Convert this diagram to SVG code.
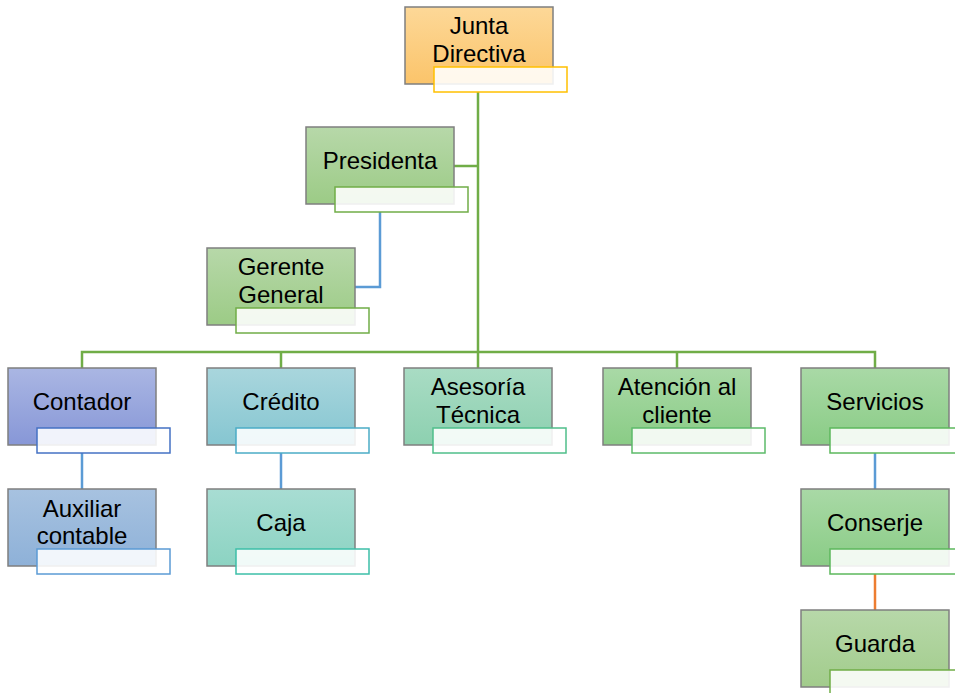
<svg xmlns="http://www.w3.org/2000/svg" width="955" height="693" viewBox="0 0 955 693">
<defs>
<linearGradient id="gOrange" x1="0" y1="0" x2="0" y2="1"><stop offset="0" stop-color="#fdd898"/><stop offset="1" stop-color="#fbc46a"/></linearGradient>
<linearGradient id="gGreen" x1="0" y1="0" x2="0" y2="1"><stop offset="0" stop-color="#b7d8a9"/><stop offset="1" stop-color="#9ccb86"/></linearGradient>
<linearGradient id="gGreen2" x1="0" y1="0" x2="0" y2="1"><stop offset="0" stop-color="#a9d9a6"/><stop offset="1" stop-color="#8acc86"/></linearGradient>
<linearGradient id="gLav" x1="0" y1="0" x2="0" y2="1"><stop offset="0" stop-color="#aab6e3"/><stop offset="1" stop-color="#8797d7"/></linearGradient>
<linearGradient id="gTeal" x1="0" y1="0" x2="0" y2="1"><stop offset="0" stop-color="#a9d6dd"/><stop offset="1" stop-color="#86c6d1"/></linearGradient>
<linearGradient id="gSea" x1="0" y1="0" x2="0" y2="1"><stop offset="0" stop-color="#a9dcc4"/><stop offset="1" stop-color="#8dd0b0"/></linearGradient>
<linearGradient id="gSky" x1="0" y1="0" x2="0" y2="1"><stop offset="0" stop-color="#a7c2e0"/><stop offset="1" stop-color="#8eb1d8"/></linearGradient>
<linearGradient id="gMint" x1="0" y1="0" x2="0" y2="1"><stop offset="0" stop-color="#a8ddd3"/><stop offset="1" stop-color="#8cd3c2"/></linearGradient>
<linearGradient id="gOlive" x1="0" y1="0" x2="0" y2="1"><stop offset="0" stop-color="#b7d8a9"/><stop offset="1" stop-color="#a2cc8c"/></linearGradient>
</defs>
<style>
.box{stroke:#7f7f7f;stroke-width:1.5}
.ov{fill:#ffffff;fill-opacity:0.88;stroke-width:1.5}
.t{font-family:"Liberation Sans",Arial,sans-serif;font-size:24px;fill:#000;text-anchor:middle}
.cg{fill:none;stroke:#70ad47;stroke-width:2.5}
.cb{fill:none;stroke:#5b9bd5;stroke-width:2.5}
.co{fill:none;stroke:#ed7d31;stroke-width:2.5}
</style>
<g id="connectors">
<path class="cg" d="M478 92V352M82 368V352H875V368M281 352V368M478 352V368M677 352V368M454 166H478"/>
<path class="cb" d="M380 212V287H355M82 453V489M281 453V489M875 453V489"/>
<path class="co" d="M875 574V610"/>
</g>
<g id="junta"><rect class="box" x="405" y="7" width="148" height="77" fill="url(#gOrange)"/><rect class="ov" x="434" y="67" width="133" height="25" stroke="#ffc000"/><text class="t" x="479" y="34">Junta</text><text class="t" x="479" y="62">Directiva</text></g>
<g id="presidenta"><rect class="box" x="306" y="127" width="148" height="77" fill="url(#gGreen)"/><rect class="ov" x="335" y="187" width="133" height="25" stroke="#70ad47"/><text class="t" x="380" y="169">Presidenta</text></g>
<g id="gerente"><rect class="box" x="207" y="248" width="148" height="77" fill="url(#gGreen)"/><rect class="ov" x="236" y="308" width="133" height="25" stroke="#70ad47"/><text class="t" x="281" y="275">Gerente</text><text class="t" x="281" y="303">General</text></g>
<g id="contador"><rect class="box" x="8" y="368" width="148" height="77" fill="url(#gLav)"/><rect class="ov" x="37" y="428" width="133" height="25" stroke="#4472c4"/><text class="t" x="82" y="410">Contador</text></g>
<g id="credito"><rect class="box" x="207" y="368" width="148" height="77" fill="url(#gTeal)"/><rect class="ov" x="236" y="428" width="133" height="25" stroke="#4bacc6"/><text class="t" x="281" y="410">Crédito</text></g>
<g id="asesoria"><rect class="box" x="404" y="368" width="148" height="77" fill="url(#gSea)"/><rect class="ov" x="433" y="428" width="133" height="25" stroke="#4fbf8a"/><text class="t" x="478" y="395">Asesoría</text><text class="t" x="478" y="423">Técnica</text></g>
<g id="atencion"><rect class="box" x="603" y="368" width="148" height="77" fill="url(#gGreen2)"/><rect class="ov" x="632" y="428" width="133" height="25" stroke="#5cbb6a"/><text class="t" x="677" y="395">Atención al</text><text class="t" x="677" y="423">cliente</text></g>
<g id="servicios"><rect class="box" x="801" y="368" width="148" height="77" fill="url(#gGreen2)"/><rect class="ov" x="830" y="428" width="133" height="25" stroke="#5cb85c"/><text class="t" x="875" y="410">Servicios</text></g>
<g id="auxiliar"><rect class="box" x="8" y="489" width="148" height="77" fill="url(#gSky)"/><rect class="ov" x="37" y="549" width="133" height="25" stroke="#5b9bd5"/><text class="t" x="82" y="517">Auxiliar</text><text class="t" x="82" y="544">contable</text></g>
<g id="caja"><rect class="box" x="207" y="489" width="148" height="77" fill="url(#gMint)"/><rect class="ov" x="236" y="549" width="133" height="25" stroke="#3cbfa8"/><text class="t" x="281" y="531">Caja</text></g>
<g id="conserje"><rect class="box" x="801" y="489" width="148" height="77" fill="url(#gGreen2)"/><rect class="ov" x="830" y="549" width="133" height="25" stroke="#5cb85c"/><text class="t" x="875" y="531">Conserje</text></g>
<g id="guarda"><rect class="box" x="801" y="610" width="148" height="77" fill="url(#gOlive)"/><rect class="ov" x="830" y="670" width="133" height="25" stroke="#70ad47"/><text class="t" x="875" y="652">Guarda</text></g>
</svg>
